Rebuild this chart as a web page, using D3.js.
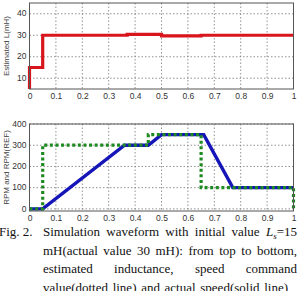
<!DOCTYPE html>
<html>
<head>
<meta charset="utf-8">
<script src="https://cdn.jsdelivr.net/npm/d3@7"></script>
<style>
  body { margin: 0; background: #fff; }
  svg { display: block; }
  .tick text { font-family: "Liberation Sans", Arial, sans-serif; font-size: 8.5px; fill: #333; }
  .ylab { font-family: "Liberation Sans", Arial, sans-serif; font-size: 8.5px; fill: #333; }
  .grid line { stroke: #777; stroke-width: 0.8; stroke-dasharray: 1.5,2; }
  .cap { font-family: "Liberation Serif", "Times New Roman", serif; font-size: 13px; fill: #111; }
</style>
</head>
<body>
<svg id="chart" width="298" height="291"></svg>
<script>
// time axis ticks
const xTicks = [0, 0.1, 0.2, 0.3, 0.4, 0.5, 0.6, 0.7, 0.8, 0.9, 1];

// estimated inductance (top panel)
const lTime = [0, 0, 0.05, 0.05, 0.37, 0.37, 0.5, 0.5, 0.65, 0.65, 1];
const lValue = [5, 15, 15, 30, 30, 30.4, 30.4, 29.7, 29.7, 30, 30];
const lTicks = [10, 20, 30, 40];

// speed command (dotted) and actual speed (solid)
const refTime = [0, 0.05, 0.05, 0.45, 0.45, 0.65, 0.65, 1, 1];
const refRpm = [0, 0, 300, 300, 350, 350, 100, 100, 0];
const rpmTime = [0, 0.05, 0.36, 0.45, 0.5, 0.66, 0.77, 1];
const rpm = [0, 0, 300, 300, 350, 350, 100, 100];
const rpmTicks = [0, 100, 200, 300, 400];

const captionLines = [
  ["Simulation", "waveform", "with", "initial", "value", "Ls=15"],
  ["mH(actual", "value", "30", "mH):", "from", "top", "to", "bottom,"],
  ["estimated", "inductance,", "speed", "command"],
  ["value(dotted", "line)", "and", "actual", "speed(solid", "line)"]
];

const svg = d3.select("#chart");
const x = d3.scaleLinear().domain([0, 1]).range([29.5, 293.5]);

function panel(y, yTicks, top, bottom, label) {
  const g = svg.append("g");
  // grid
  g.append("g").attr("class", "grid")
    .selectAll("line").data(xTicks.slice(1, -1)).enter().append("line")
    .attr("x1", d => x(d)).attr("x2", d => x(d))
    .attr("y1", top).attr("y2", bottom);
  g.append("g").attr("class", "grid")
    .selectAll("line").data(yTicks).enter().append("line")
    .attr("x1", x(0)).attr("x2", x(1))
    .attr("y1", d => y(d)).attr("y2", d => y(d));

  g.append("g").attr("transform", "translate(0," + bottom + ")")
    .call(d3.axisBottom(x).tickValues(xTicks).tickSize(0).tickPadding(4).tickFormat(d3.format("")))
    .call(a => a.select(".domain").remove());

  // y tick labels
  g.append("g").selectAll("text").data(yTicks).enter().append("text")
    .attr("class", "ylab")
    .attr("x", x(0) - 3)
    .attr("y", d => y(d))
    .attr("dy", "0.32em")
    .attr("text-anchor", "end")
    .text(d => d);

  g.append("text")
    .attr("transform", "translate(9," + ((top + bottom) / 2) + ") rotate(-90)")
    .attr("text-anchor", "middle")
    .style("font-family", "Liberation Sans, Arial, sans-serif")
    .style("font-size", "8px")
    .style("fill", "#444")
    .text(label);
  return g;
}

// top panel
const yL = d3.scaleLinear().domain([5, 45]).range([89, 3]);
const g1 = panel(yL, lTicks, 3, 89, "Estimated L(mH)");
g1.append("path")
  .datum(d3.zip(lTime, lValue))
  .attr("fill", "none").attr("stroke", "#d8151d").attr("stroke-width", 3.2)
  .attr("d", d3.line().x(d => x(d[0])).y(d => yL(d[1])));
g1.append("rect").attr("x", x(0)).attr("y", 3).attr("width", x(1) - x(0)).attr("height", 86)
  .attr("fill", "none").attr("stroke", "#555").attr("stroke-width", 1);

// bottom panel
const yR = d3.scaleLinear().domain([-10, 400]).range([211, 124]);
const g2 = panel(yR, rpmTicks, 124, 211, "RPM and RPM(REF)");
g2.append("path")
  .datum(d3.zip(rpmTime, rpm))
  .attr("fill", "none").attr("stroke", "#1515b8").attr("stroke-width", 3.4)
  .attr("d", d3.line().x(d => x(d[0])).y(d => yR(d[1])));
g2.append("path")
  .datum(d3.zip(refTime, refRpm))
  .attr("fill", "none").attr("stroke", "#1f8a22").attr("stroke-width", 3.2)
  .attr("stroke-dasharray", "3,2.6")
  .attr("d", d3.line().x(d => x(d[0])).y(d => yR(d[1])));
g2.append("rect").attr("x", x(0)).attr("y", 124).attr("width", x(1) - x(0)).attr("height", 87)
  .attr("fill", "none").attr("stroke", "#555").attr("stroke-width", 1);

// caption, justified between left and right edge (last line ends short)
const capLeft = 43;
const capRights = [297, 297, 297, 288];
svg.append("text").attr("class", "cap").attr("x", -1).attr("y", 236).text("Fig. 2.");
captionLines.forEach(function(words, i) {
  const yy = 236 + i * 18.5;
  const nodes = words.map(function(w) {
    const t = svg.append("text").attr("class", "cap").attr("y", yy);
    if (w === "Ls=15") {
      t.append("tspan").style("font-style", "italic").text("L");
      t.append("tspan").style("font-style", "italic").style("font-size", "9px").attr("dy", 3).text("s");
      t.append("tspan").attr("dy", -3).text("=15");
    } else {
      t.text(w);
    }
    return t;
  });
  const widths = nodes.map(n => n.node().getComputedTextLength());
  const gap = (capRights[i] - capLeft - d3.sum(widths)) / (words.length - 1);
  let cx = capLeft;
  nodes.forEach(function(n, j) {
    n.attr("x", cx);
    cx += widths[j] + gap;
  });
});
</script>
</body>
</html>
